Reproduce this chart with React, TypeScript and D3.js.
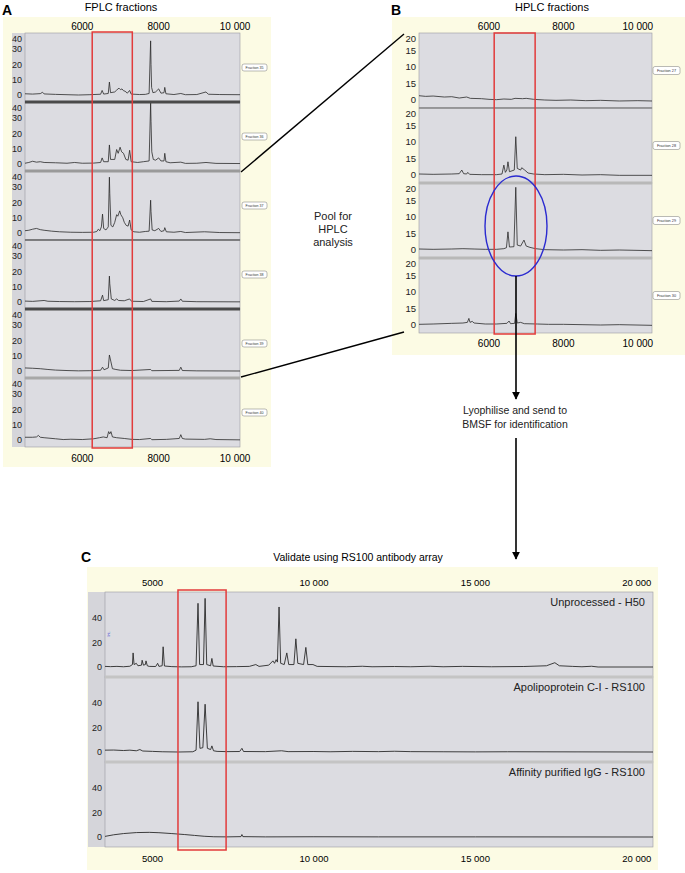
import React from 'react';
import * as d3 from 'd3';

const FONT = "Helvetica, Arial, 'Liberation Sans', sans-serif";

// ---- Panel A: FPLC fractions (mass, intensity) ----
const fplcNames = ['Fraction 35', 'Fraction 36', 'Fraction 37', 'Fraction 38', 'Fraction 39', 'Fraction 40'];
const fplc35 = [[4500,0.8],[4700,0.6],[4900,0.9],[4960,1.8],[5000,0.7],[5300,0.4],[5600,0.2],[5900,0],[6200,0.2],[6480,0.5],[6520,3],[6560,0.6],[6680,1],[6710,8.5],[6740,1.5],[6850,2],[6900,3.2],[6960,4.5],[7000,3.5],[7040,4],[7080,2.8],[7120,2.5],[7180,1.2],[7240,3],[7280,0.6],[7500,0.3],[7650,0.4],[7750,1],[7790,35.5],[7800,20],[7815,5],[7850,1.5],[7920,2],[8000,4],[8060,1.2],[8140,1.5],[8160,5],[8190,0.8],[8400,0.3],[8580,1],[8700,0.2],[9000,0.3],[9240,2],[9300,0.5],[9600,0.3],[10130,0.2]];
const fplc36 = [[4500,0.5],[4600,1],[4700,1.8],[4800,1.2],[4900,1.5],[5000,1],[5300,0.8],[5600,0.5],[5800,1],[6000,0.5],[6300,0.6],[6480,1],[6520,4],[6560,1.5],[6680,1.5],[6710,12.5],[6740,3],[6850,3],[6900,9.5],[6940,7],[6990,11],[7030,8],[7080,7],[7140,3],[7200,2.5],[7240,9],[7280,1.5],[7450,1],[7600,1.5],[7750,2],[7790,40],[7800,28],[7820,8],[7860,3],[7920,2.5],[8000,4],[8060,2],[8140,2],[8160,7],[8190,1.5],[8300,0.8],[8580,1.2],[8700,0.4],[9000,0.5],[9240,1],[9500,0.4],[10130,0.3]];
const fplc37 = [[4500,1.5],[4600,1.8],[4700,2.5],[4800,3],[4900,2.2],[5000,1.8],[5200,1.2],[5400,0.8],[5700,0.5],[6000,0.4],[6300,0.5],[6380,1],[6420,2.5],[6460,1.5],[6500,4],[6530,12.4],[6560,3],[6620,2],[6680,4],[6710,36.6],[6720,26],[6750,5],[6800,4],[6850,7],[6900,12],[6930,11],[6980,14.5],[7010,12],[7060,10],[7100,7],[7150,5],[7200,4.5],[7240,8.5],[7280,2],[7350,0.8],[7500,0.5],[7650,1],[7750,1.2],[7790,21.5],[7800,14],[7830,2],[7900,1.5],[8000,3],[8060,1],[8140,1.5],[8160,3.5],[8200,0.8],[8400,0.5],[8580,1],[8700,0.3],[9200,0.8],[9600,0.3],[10130,0.2]];
const fplc38 = [[4500,0.6],[4700,0.4],[5000,1],[5100,0.5],[5400,0.3],[5800,0.2],[6200,0.3],[6480,0.8],[6530,4.5],[6560,0.9],[6680,1.5],[6710,17],[6720,12],[6760,2],[6850,1],[6900,2],[6950,1],[7100,0.8],[7240,2],[7290,0.5],[7600,0.3],[7790,2],[7820,0.4],[8200,0.2],[8540,0.6],[8580,2],[8620,0.5],[9000,0.2],[10130,0.1]];
const fplc39 = [[4500,2],[4700,1.8],[4900,1.5],[5100,1],[5300,0.6],[5600,0.3],[5900,0.1],[6200,0.2],[6480,0.5],[6530,2.5],[6570,0.8],[6680,2],[6710,10.5],[6750,6],[6790,1.5],[6880,1],[7000,0.5],[7300,0.3],[7790,1],[7820,0.2],[8540,0.4],[8580,2.5],[8620,0.3],[9000,0.1],[10130,0]];
const fplc40 = [[4500,1.8],[4700,1.8],[4800,2],[4850,3],[4900,1.8],[5000,1.5],[5300,0.8],[5500,0.3],[5700,0.5],[6000,0.3],[6300,0.8],[6450,1.5],[6550,2],[6650,1.5],[6690,5.5],[6720,4],[6750,5.5],[6790,2],[6900,1.5],[7100,1],[7300,0.4],[7500,0.3],[7790,1],[7820,0.2],[8200,0.4],[8540,1],[8580,3.5],[8620,1],[8700,0.6],[9200,0.4],[9350,0.8],[9500,0.3],[10130,0.1]];
const fplcTicksX = [6000, 8000, 10000];
const fplcTickLabelsX = ['6000', '8000', '10 000'];
const fplcTicksY = [0, 10, 20, 30, 40];

// ---- Panel B: HPLC fractions ----
const hplcNames = ['Fraction 27', 'Fraction 28', 'Fraction 29', 'Fraction 30'];
const hplc27 = [[4120,1.3],[4300,1.1],[4500,1.2],[4800,0.9],[5000,1],[5200,0.6],[5400,0.9],[5500,0.5],[5800,0.4],[6000,0.2],[6200,0.1],[6400,0.3],[6600,0.2],[6700,0.5],[6900,0.4],[7000,0.5],[7200,0.2],[7500,0],[7800,-0.1],[8200,0],[8600,-0.2],[9000,-0.1],[9500,-0.3],[10000,-0.2],[10380,-0.3]];
const hplc28 = [[4120,0.3],[4500,0.2],[5000,0.3],[5200,0.4],[5270,1.5],[5320,0.4],[5400,0.3],[5430,0.8],[5480,0.2],[5800,0.1],[6200,0.1],[6350,0.3],[6400,3],[6440,0.8],[6480,1.5],[6510,4],[6550,1],[6680,1.5],[6720,11.6],[6760,2],[6850,1.5],[6880,2.2],[6960,1.5],[7050,0.6],[7200,0.3],[7500,0.1],[8000,0.2],[8500,0],[9000,0.1],[9500,-0.1],[10380,-0.1]];
const hplc29 = [[4120,0.3],[4500,0.2],[5000,0.3],[5300,0.4],[5600,0.3],[5900,0.2],[6200,0.2],[6400,0.4],[6470,0.7],[6510,5.5],[6550,0.9],[6670,1],[6720,19],[6760,1.5],[6850,1.2],[6940,3],[7000,1.2],[7100,0.8],[7250,0.4],[7500,0.1],[8000,0],[8500,0.1],[9000,-0.1],[9500,0],[10380,-0.2]];
const hplc30 = [[4120,0.2],[4500,0.3],[5000,0.5],[5300,0.6],[5420,0.8],[5460,2],[5490,0.8],[5550,1.1],[5600,0.6],[5900,0.3],[6200,0.3],[6480,0.5],[6540,1.2],[6580,0.4],[6690,0.5],[6720,3.5],[6760,0.6],[6850,0.8],[6950,0.4],[7300,0.3],[7600,0.2],[8000,0.2],[8500,0.1],[9000,0],[9500,0.1],[10380,-0.1]];
const hplcTicksX = [6000, 8000, 10000];
const hplcTickLabelsX = ['6000', '8000', '10 000'];
const hplcTicksY = [20, 15, 10, 5, 0];
const hplcTickLabelsY = ['20', '15', '10', '15', '0'];

// ---- Panel C: RS100 antibody array ----
const arrayNames = ['Unprocessed - H50', 'Apolipoprotein C-I - RS100', 'Affinity purified IgG - RS100'];
const arrayH50 = [[3530,0.5],[3700,0.3],[3900,0.5],[4100,0.2],[4300,0.6],[4380,2],[4400,11.5],[4430,2],[4500,3],[4550,1],[4660,1.5],[4680,5.5],[4720,1.5],[4780,2],[4800,5],[4840,1],[4900,0.5],[5100,0.4],[5160,3],[5200,0.5],[5300,1],[5330,16.5],[5370,0.8],[5600,0.3],[5900,0.1],[6200,0.2],[6350,1],[6410,52],[6460,2],[6580,2],[6630,56],[6680,2],[6800,1],[6840,7],[6880,0.8],[7200,0.2],[7600,0.3],[8000,0.5],[8200,2],[8300,0.5],[8600,1.5],[8730,5],[8780,3],[8830,6],[8870,4],[8920,49],[8970,3],[9080,2],[9160,11.5],[9220,2],[9380,2],[9440,23],[9500,3],[9680,2],[9750,16],[9810,2],[9970,2],[10100,0.5],[11000,0.2],[11500,0.6],[11800,0.2],[12500,0.4],[13000,0.2],[13600,0.6],[14000,0.2],[14600,0.5],[15500,0.2],[16500,0.4],[17200,1],[17460,3.5],[17600,1],[18000,0.5],[18300,0.2],[18600,0.6],[18800,0],[20500,0]];
const arrayApoC1 = [[3530,1.5],[3800,1.6],[4100,1.2],[4300,1.5],[4500,1],[4610,2],[4700,0.8],[5000,0.5],[5300,0.2],[5800,0],[6250,0.2],[6350,1.5],[6410,41],[6470,3],[6560,3.5],[6630,39],[6700,3],[6800,2],[6840,5],[6890,1],[7000,0.5],[7300,0.3],[7700,0.4],[7770,3],[7820,0.4],[8500,0.3],[9000,1],[9200,0.3],[10000,0.4],[10500,0.2],[11200,0.5],[12000,0.3],[12500,0.6],[13000,0.3],[14000,0.2],[15000,0.1],[16000,0.2],[20500,0]];
const arrayIgG = [[3530,0.5],[3800,1.8],[4100,2.8],[4500,3.6],[4900,3.8],[5200,3.5],[5600,2.8],[6000,2],[6300,1.3],[6600,0.6],[6900,0.2],[7300,0.1],[7740,0.3],[7770,2],[7800,0.3],[8500,0.1],[10000,0.2],[12000,0.1],[15000,0.1],[20500,0]];
const arrayTicksX = [5000, 10000, 15000, 20000];
const arrayTickLabelsX = ['5000', '10 000', '15 000', '20 000'];
const arrayTicksY = [0, 20, 40];

const Stack = ({ id, traces, names, xDomain, x0, x1, stripX, top, bottom, yDomain, yRange, yTicks, yLabels, seps, nameBox, nameRight, fs, tickFs, strokeW }) => {
  const x = d3.scaleLinear().domain(xDomain).range([x0, x1]);
  const ph = (bottom - top) / traces.length;
  return (
    <g>
      <rect x={stripX} y={top} width={x0 - stripX} height={bottom - top} fill="#d5d5da" />
      {traces.map((tr, i) => {
        const t = top + i * ph;
        const y = d3.scaleLinear().domain(yDomain).range([t + yRange[0], t + yRange[1]]);
        const line = d3.line().x((d) => x(d[0])).y((d) => y(d[1]));
        // keep the top label inside its own panel so it does not run into the one above
        const labelY = (v) => Math.min(Math.max(y(v) + tickFs * 0.36, t + tickFs * 0.95), t + ph - 2.5);
        return (
          <g key={i}>
            <clipPath id={`${id}-c${i}`}>
              <rect x={x0} y={t} width={x1 - x0} height={ph} />
            </clipPath>
            <rect x={x0} y={t} width={x1 - x0} height={ph} fill="#dcdce1" stroke="#9a9aa0" strokeWidth={0.6} />
            <path d={line(tr)} fill="none" stroke="#2a2a2a" strokeWidth={strokeW} strokeLinejoin="round" clipPath={`url(#${id}-c${i})`} />
            {yTicks.map((v, k) => (
              <text key={k} x={x0 - 3} y={labelY(v)} textAnchor="end" fontSize={tickFs} fontFamily={FONT} fill="#222">
                {yLabels ? yLabels[k] : v}
              </text>
            ))}
            {nameBox ? (
              <g>
                <rect x={nameBox.x} y={t + ph / 2 - nameBox.h / 2} width={nameBox.w} height={nameBox.h} rx={2} fill="#fff" stroke="#777" strokeWidth={0.5} />
                <text x={nameBox.x + nameBox.w / 2} y={t + ph / 2 + 1.4} textAnchor="middle" fontSize={nameBox.fs} fontFamily={FONT} fill="#333">{names[i]}</text>
              </g>
            ) : (
              <text x={nameRight} y={t + 14} textAnchor="end" fontSize={fs} fontFamily={FONT} fill="#222">{names[i]}</text>
            )}
          </g>
        );
      })}
      {seps.map((s, i) => (
        <line key={i} x1={x0} x2={x1} y1={top + (i + 1) * ph} y2={top + (i + 1) * ph} stroke={s.c} strokeWidth={s.w} />
      ))}
    </g>
  );
};

const App = () => {
  const xA = d3.scaleLinear().domain([4500, 10130]).range([25, 240]);
  const xB = d3.scaleLinear().domain([4120, 10380]).range([419, 652]);
  const xC = d3.scaleLinear().domain([3530, 20500]).range([105, 653]);
  const red = '#e23b3b';

  return (
    <svg width={685} height={873} style={{ position: 'absolute', left: 0, top: 0, background: '#fff' }}>
      <defs>
        <marker id="arrow" viewBox="0 0 10 10" refX="9" refY="5" markerWidth="5" markerHeight="7" orient="auto">
          <path d="M0,0 L10,5 L0,10 z" fill="#000" />
        </marker>
      </defs>

      {/* Panel A */}
      <rect x={3} y={17} width={268} height={450} fill="#fcfbe4" />
      <text x={2} y={15} fontSize={14} fontWeight="bold" fontFamily={FONT}>A</text>
      <text x={121} y={11} textAnchor="middle" fontSize={11} fontFamily={FONT}>FPLC fractions</text>
      {fplcTicksX.map((v, i) => (
        <g key={i}>
          <text x={xA(v)} y={30} textAnchor="middle" fontSize={10} fontFamily={FONT}>{fplcTickLabelsX[i]}</text>
          <text x={xA(v)} y={462} textAnchor="middle" fontSize={10} fontFamily={FONT}>{fplcTickLabelsX[i]}</text>
        </g>
      ))}
      <Stack
        id="a" traces={[fplc35, fplc36, fplc37, fplc38, fplc39, fplc40]} names={fplcNames}
        xDomain={[4500, 10130]} x0={25} x1={240} stripX={12} top={33} bottom={447}
        yDomain={[0, 40]} yRange={[62, 1]} yTicks={fplcTicksY} tickFs={9} strokeW={0.8}
        seps={[{ c: '#4a4a4a', w: 3 }, { c: '#9a9a9a', w: 3 }, { c: '#666', w: 1.5 }, { c: '#4a4a4a', w: 3 }, { c: '#a8a8a8', w: 3 }]}
        nameBox={{ x: 242, w: 25, h: 7, fs: 3.6 }}
      />
      <rect x={xA(6260)} y={32} width={xA(7310) - xA(6260)} height={416} fill="none" stroke={red} strokeWidth={1.5} />

      {/* Panel B */}
      <rect x={392} y={17} width={293} height={338} fill="#fcfbe4" />
      <text x={391} y={15} fontSize={14} fontWeight="bold" fontFamily={FONT}>B</text>
      <text x={552} y={11} textAnchor="middle" fontSize={11} fontFamily={FONT}>HPLC fractions</text>
      {hplcTicksX.map((v, i) => (
        <g key={i}>
          <text x={xB(v)} y={30} textAnchor="middle" fontSize={10} fontFamily={FONT}>{hplcTickLabelsX[i]}</text>
          <text x={xB(v)} y={347} textAnchor="middle" fontSize={10} fontFamily={FONT}>{hplcTickLabelsX[i]}</text>
        </g>
      ))}
      <Stack
        id="b" traces={[hplc27, hplc28, hplc29, hplc30]} names={hplcNames}
        xDomain={[4120, 10380]} x0={419} x1={652} stripX={419} top={33} bottom={333}
        yDomain={[0, 20]} yRange={[67, 1]} yTicks={hplcTicksY} yLabels={hplcTickLabelsY} tickFs={9.5} strokeW={0.8}
        seps={[{ c: '#8a8a8a', w: 1.5 }, { c: '#b8b8b8', w: 3 }, { c: '#b8b8b8', w: 3 }]}
        nameBox={{ x: 653, w: 27, h: 8, fs: 3.8 }}
      />
      <rect x={xB(6140)} y={33} width={xB(7240) - xB(6140)} height={301} fill="none" stroke={red} strokeWidth={1.5} />
      <ellipse cx={516} cy={226} rx={31} ry={50} fill="none" stroke="#2b2bd0" strokeWidth={1.4} />

      {/* connectors A -> B */}
      <line x1={241} y1={172} x2={404} y2={34} stroke="#000" strokeWidth={1.4} />
      <line x1={241} y1={377} x2={404} y2={332} stroke="#000" strokeWidth={1.4} />
      <text textAnchor="middle" fontSize={11} fontFamily={FONT} fill="#222">
        <tspan x={333} y={220}>Pool for</tspan>
        <tspan x={333} y={233}>HPLC</tspan>
        <tspan x={333} y={246}>analysis</tspan>
      </text>

      {/* arrows B -> C */}
      <line x1={516} y1={276} x2={516} y2={399} stroke="#000" strokeWidth={1.6} markerEnd="url(#arrow)" />
      <text textAnchor="middle" fontSize={10.5} fontFamily={FONT} fill="#222">
        <tspan x={515} y={414}>Lyophilise and send to</tspan>
        <tspan x={515} y={428}>BMSF for identification</tspan>
      </text>
      <line x1={516} y1={438} x2={516} y2={559} stroke="#000" strokeWidth={1.6} markerEnd="url(#arrow)" />

      {/* Panel C */}
      <rect x={87} y={567} width={571} height={303} fill="#fcfbe4" />
      <text x={81} y={562} fontSize={14} fontWeight="bold" fontFamily={FONT}>C</text>
      <text x={358} y={561} textAnchor="middle" fontSize={10.5} fontFamily={FONT}>Validate using RS100 antibody array</text>
      {arrayTicksX.map((v, i) => (
        <g key={i}>
          <text x={xC(v)} y={586} textAnchor="middle" fontSize={9.5} fontFamily={FONT}>{arrayTickLabelsX[i]}</text>
          <text x={xC(v)} y={862} textAnchor="middle" fontSize={9.5} fontFamily={FONT}>{arrayTickLabelsX[i]}</text>
        </g>
      ))}
      <Stack
        id="c" traces={[arrayH50, arrayApoC1, arrayIgG]} names={arrayNames}
        xDomain={[3530, 20500]} x0={105} x1={653} stripX={88} top={592} bottom={847}
        yDomain={[0, 40]} yRange={[75, 26]} yTicks={arrayTicksY} tickFs={9} strokeW={0.9}
        seps={[{ c: '#c4c4c4', w: 3 }, { c: '#c4c4c4', w: 3 }]}
        nameRight={645} fs={11}
      />
      <text x={110} y={634} transform="rotate(-90 110 634)" textAnchor="middle" fontSize={3.5} fontFamily={FONT} fill="#2b2bd0">Int.</text>
      <rect x={xC(5790)} y={590} width={xC(7280) - xC(5790)} height={260} fill="none" stroke={red} strokeWidth={1.5} />
    </svg>
  );
};

export default App;
